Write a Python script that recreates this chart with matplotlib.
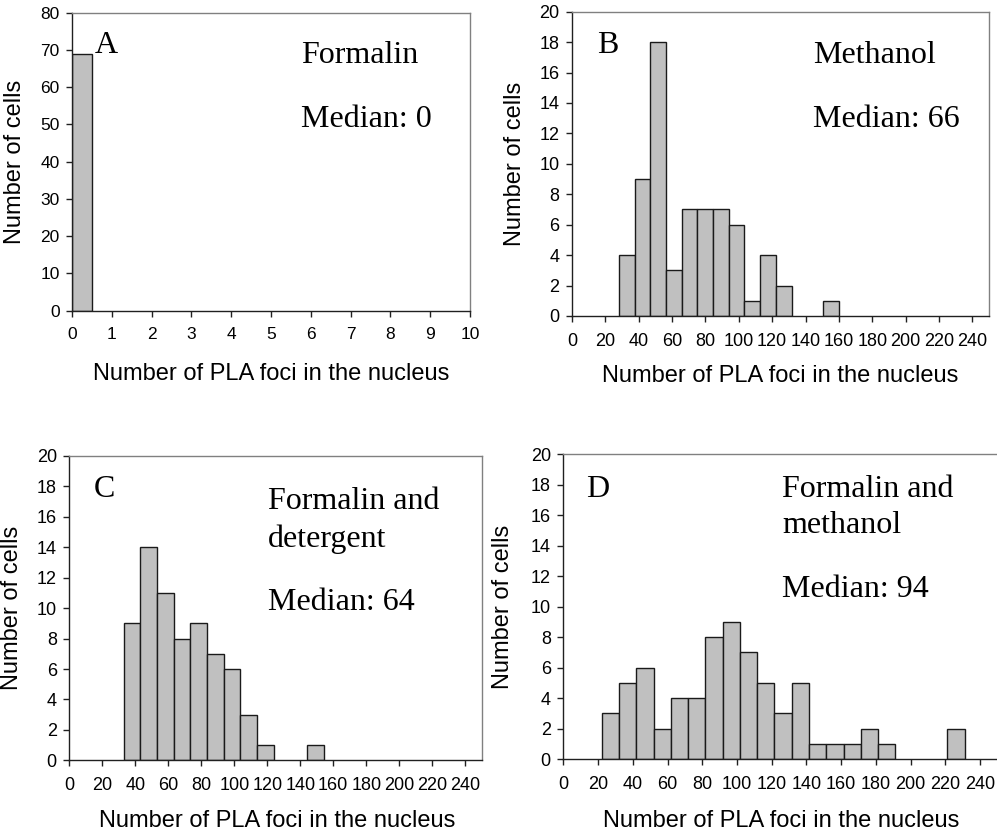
import numpy as np
import matplotlib
matplotlib.use("Agg")
import matplotlib.pyplot as plt

# ---- data ----
# A: formalin, x axis 0..10, single bar at 0
a_edges = [0.0, 0.5]
a_counts = [69]

# B: methanol
b_start, b_width = 28.2, 9.4
b_counts = [4, 9, 18, 3, 7, 7, 7, 6, 1, 4, 2, 0, 0, 1]

# C: formalin and detergent
c_start, c_width = 33.0, 10.1
c_counts = [9, 14, 11, 8, 9, 7, 6, 3, 1, 0, 0, 1]

# D: formalin and methanol
d_start, d_width = 22.1, 9.95
d_counts = [3, 5, 6, 2, 4, 4, 8, 9, 7, 5, 3, 5, 1, 1, 1, 2, 1, 0, 0, 0, 2]

a_xticks = list(range(0, 11))
abcd_xticks = list(range(0, 241, 20))
a_yticks = list(range(0, 81, 10))
bcd_yticks = list(range(0, 21, 2))

W, H = 997, 832
SANS = "Liberation Sans"
SERIF = "Liberation Serif"
BAR_FILL = "#c0c0c0"
FRAME = "#808080"


def box(l, r, t, b):
    return [l / W, 1 - b / H, (r - l) / W, (b - t) / H]


def ftext(fig, x, y, s, **kw):
    fig.text(x / W, 1 - y / H, s, **kw)


def style_axes(ax, xlim, ylim, xticks, yticks, tick_size=13):
    ax.set_xlim(*xlim)
    ax.set_ylim(*ylim)
    ax.set_xticks(xticks)
    ax.set_yticks(yticks)
    for side in ("top", "right"):
        ax.spines[side].set_color(FRAME)
        ax.spines[side].set_linewidth(1.0)
    for side in ("left", "bottom"):
        ax.spines[side].set_color("#202020")
        ax.spines[side].set_linewidth(1.0)
    ax.tick_params(direction="out", length=4, width=1, color="#202020",
                   labelsize=tick_size)
    ax.tick_params(axis="x", pad=8)
    ax.tick_params(axis="y", pad=5)
    for lab in ax.get_xticklabels() + ax.get_yticklabels():
        lab.set_family(SANS)


def draw_bars(ax, start, width, counts):
    lefts = start + width * np.arange(len(counts))
    heights = np.array(counts)
    keep = heights > 0
    ax.bar(lefts[keep], heights[keep], width=width, align="edge",
           color=BAR_FILL, edgecolor="#1a1a1a", linewidth=1.0, zorder=2)


fig = plt.figure(figsize=(W / 100, H / 100), dpi=100)

# panel A
axA = fig.add_axes(box(72, 470, 12.7, 310.7))
axA.bar(a_edges[0], a_counts[0], width=a_edges[1] - a_edges[0], align="edge",
        color=BAR_FILL, edgecolor="#1a1a1a", linewidth=1.0, zorder=2)
style_axes(axA, (0, 10), (0, 80), a_xticks, a_yticks, tick_size=12.5)

# panel B
axB = fig.add_axes(box(572, 989, 11.7, 316))
draw_bars(axB, b_start, b_width, b_counts)
style_axes(axB, (0, 250), (0, 20), abcd_xticks, bcd_yticks)

# panel C
axC = fig.add_axes(box(69.3, 481.7, 456, 760.3))
draw_bars(axC, c_start, c_width, c_counts)
style_axes(axC, (0, 250), (0, 20), abcd_xticks, bcd_yticks)

# panel D (right edge runs off the image)
axD = fig.add_axes(box(563.3, 997.5, 454.3, 759))
draw_bars(axD, d_start, d_width, d_counts)
style_axes(axD, (0, 250), (0, 20), abcd_xticks, bcd_yticks)

# axis labels
xlab = "Number of PLA foci in the nucleus"
ylab = "Number of cells"
lab_kw = dict(family=SANS, fontsize=17)
ftext(fig, 271, 380, xlab, ha="center", va="baseline", **lab_kw)
ftext(fig, 780, 382, xlab, ha="center", va="baseline", **lab_kw)
ftext(fig, 277, 827, xlab, ha="center", va="baseline", **lab_kw)
ftext(fig, 781, 827, xlab, ha="center", va="baseline", **lab_kw)
ftext(fig, 15, 162, ylab, ha="center", va="center", rotation=90, **lab_kw)
ftext(fig, 515, 164, ylab, ha="center", va="center", rotation=90, **lab_kw)
ftext(fig, 12, 608, ylab, ha="center", va="center", rotation=90, **lab_kw)
ftext(fig, 503, 607, ylab, ha="center", va="center", rotation=90, **lab_kw)

# panel annotations
ann = dict(family=SERIF, fontsize=23, ha="left", va="baseline")
ftext(fig, 95, 53, "A", **ann)
ftext(fig, 301, 63, "Formalin", **ann)
ftext(fig, 301, 127, "Median: 0", **ann)

ftext(fig, 597, 53, "B", **ann)
ftext(fig, 813, 63, "Methanol", **ann)
ftext(fig, 813, 127, "Median: 66", **ann)

ftext(fig, 94, 497, "C", **ann)
ftext(fig, 268, 509, "Formalin and", **ann)
ftext(fig, 268, 547, "detergent", **ann)
ftext(fig, 268, 610, "Median: 64", **ann)

ftext(fig, 586, 497, "D", **ann)
ftext(fig, 782, 497, "Formalin and", **ann)
ftext(fig, 782, 533, "methanol", **ann)
ftext(fig, 782, 597, "Median: 94", **ann)

fig.savefig("out.png", dpi=100, facecolor="white")
